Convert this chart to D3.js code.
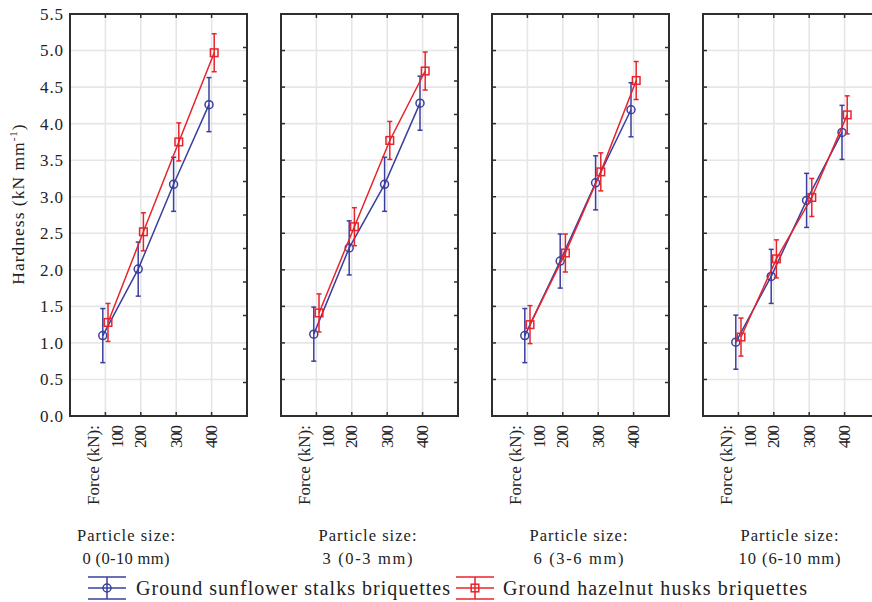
<!DOCTYPE html>
<html>
<head>
<meta charset="utf-8">
<script src="https://cdn.jsdelivr.net/npm/d3@7"></script>
<style>
  html, body { margin: 0; padding: 0; background: #fff; }
  svg { display: block; }
  text { font-family: "Liberation Serif", "DejaVu Serif", serif; fill: #222; }
</style>
</head>
<body>
<svg id="chart" width="872" height="602"></svg>
<script>
// ---- data ----
const forces = [100, 200, 300, 400];
const forceLabelPrefix = "Force (kN):";
const particleSizes = ["0 (0-10 mm)", "3 (0-3 mm)", "6 (3-6 mm)", "10 (6-10 mm)"];
const seriesNames = ["Ground sunflower stalks briquettes", "Ground hazelnut husks briquettes"];

const sunflower = [
  [1.10, 2.01, 3.17, 4.26],
  [1.12, 2.30, 3.17, 4.28],
  [1.10, 2.12, 3.19, 4.19],
  [1.01, 1.91, 2.95, 3.88]
];
const sunflowerErr = [
  [0.37, 0.37, 0.37, 0.37],
  [0.37, 0.37, 0.37, 0.37],
  [0.37, 0.37, 0.37, 0.37],
  [0.37, 0.37, 0.37, 0.37]
];
const hazelnut = [
  [1.28, 2.52, 3.75, 4.97],
  [1.41, 2.59, 3.77, 4.72],
  [1.25, 2.23, 3.34, 4.59],
  [1.08, 2.15, 2.99, 4.12]
];
const hazelnutErr = [
  [0.26, 0.26, 0.26, 0.26],
  [0.26, 0.26, 0.26, 0.26],
  [0.26, 0.26, 0.26, 0.26],
  [0.26, 0.26, 0.26, 0.26]
];
const yTickValues = [0, 0.5, 1, 1.5, 2, 2.5, 3, 3.5, 4, 4.5, 5, 5.5];

// ---- layout ----
const svg = d3.select("#chart");
const yTop = 14, yBottom = 416;
const panelW = 177, panelStep = 211, panelX0 = 70;
const blue = "#3a3f9e", red = "#e8232b", gridC = "#e6e6e6", axisC = "#2e2e2e";

const y = d3.scaleLinear().domain([0, 5.5]).range([yBottom, yTop]);
const yRight = d3.scaleLinear().domain([0, 12]).range([yBottom, yTop]);
const x = d3.scalePoint().domain(forces).range([0, panelW]).padding(1);
const dodge = 2.6;

const series = [
  { name: seriesNames[0], values: sunflower, err: sunflowerErr, color: blue, shape: "circle", dx: -dodge },
  { name: seriesNames[1], values: hazelnut, err: hazelnutErr, color: red, shape: "square", dx: dodge }
];

function drawMarker(g, shape, cx, cy, color) {
  if (shape === "circle") {
    g.append("circle").attr("cx", cx).attr("cy", cy).attr("r", 4)
      .attr("fill", "none").attr("stroke", color).attr("stroke-width", 1.5);
  } else {
    g.append("rect").attr("x", cx - 3.8).attr("y", cy - 3.8).attr("width", 7.6).attr("height", 7.6)
      .attr("fill", "none").attr("stroke", color).attr("stroke-width", 1.5);
  }
}

const bottomLineW = [87, 90, 90, 102];

particleSizes.forEach((ps, pi) => {
  const px = panelX0 + pi * panelStep;
  const g = svg.append("g").attr("transform", `translate(${px},0)`);

  // grid
  g.selectAll("line.hg").data(yTickValues.filter(v => v > 0 && v < 5.5)).join("line")
    .attr("x1", 0).attr("x2", panelW).attr("y1", d => y(d)).attr("y2", d => y(d))
    .attr("stroke", gridC).attr("stroke-width", 1.6);
  g.selectAll("line.vg").data(forces).join("line")
    .attr("x1", d => x(d)).attr("x2", d => x(d)).attr("y1", yTop).attr("y2", yBottom)
    .attr("stroke", gridC).attr("stroke-width", 1.6);

  // inward ticks
  const tl = 4;
  forces.forEach(f => {
    g.append("line").attr("x1", x(f)).attr("x2", x(f)).attr("y1", yTop).attr("y2", yTop + tl).attr("stroke", axisC).attr("stroke-width", 1.5);
    g.append("line").attr("x1", x(f)).attr("x2", x(f)).attr("y1", yBottom).attr("y2", yBottom - tl).attr("stroke", axisC).attr("stroke-width", 1.5);
  });
  d3.range(1, 12).forEach(k => {
    g.append("line").attr("x1", panelW).attr("x2", panelW - tl).attr("y1", yRight(k)).attr("y2", yRight(k)).attr("stroke", axisC).attr("stroke-width", 1.5);
  });
  if (pi > 0) {
    yTickValues.filter(v => v > 0 && v < 5.5).forEach(v => {
      g.append("line").attr("x1", 0).attr("x2", tl).attr("y1", y(v)).attr("y2", y(v)).attr("stroke", axisC).attr("stroke-width", 1.5);
    });
  }

  // frame
  g.append("rect").attr("x", 0).attr("y", yTop).attr("width", panelW).attr("height", yBottom - yTop)
    .attr("fill", "none").attr("stroke", axisC).attr("stroke-width", 2);

  // series
  series.forEach(s => {
    const vals = s.values[pi], errs = s.err[pi];
    const line = d3.line().x((d, i) => x(forces[i]) + s.dx).y(d => y(d));
    g.append("path").attr("d", line(vals)).attr("fill", "none").attr("stroke", s.color).attr("stroke-width", 1.5);
    vals.forEach((v, i) => {
      const cx = x(forces[i]) + s.dx;
      const y1 = y(v + errs[i]), y2 = y(v - errs[i]);
      g.append("line").attr("x1", cx).attr("x2", cx).attr("y1", y1).attr("y2", y2).attr("stroke", s.color).attr("stroke-width", 1.5);
      [y1, y2].forEach(yy => g.append("line").attr("x1", cx - 2.5).attr("x2", cx + 2.5).attr("y1", yy).attr("y2", yy).attr("stroke", s.color).attr("stroke-width", 1.5));
      drawMarker(g, s.shape, cx, y(v), s.color);
    });
  });

  // x tick labels (rotated)
  forces.forEach((f, i) => {
    const lines = i === 0 ? [[forceLabelPrefix, -12, 80], [String(f), 12, 23]] : [[String(f), 0, 23]];
    lines.forEach(([t, off, len]) => {
      g.append("text").attr("transform", `translate(${x(f) + off},${yBottom + 9}) rotate(-90)`)
        .attr("text-anchor", "end").attr("dominant-baseline", "central")
        .attr("font-size", 17).attr("textLength", len).attr("lengthAdjust", "spacing").text(t);
    });
  });

  // particle size labels
  const lx = pi === 0 ? 126 - px : panelW / 2 - 2;
  g.append("text").attr("x", lx).attr("y", 541).attr("text-anchor", "middle").attr("font-size", 16.5)
    .attr("textLength", 98).attr("lengthAdjust", "spacing").text("Particle size:");
  g.append("text").attr("x", lx).attr("y", 564).attr("text-anchor", "middle").attr("font-size", 16.5)
    .attr("textLength", bottomLineW[pi]).attr("lengthAdjust", "spacing").text(ps);
});

// y axis labels (first panel)
const ya = svg.append("g");
yTickValues.forEach(v => {
  ya.append("text").attr("x", 63).attr("y", y(v)).attr("dy", "0.35em")
    .attr("text-anchor", "end").attr("font-size", 17).attr("textLength", 23).attr("lengthAdjust", "spacing")
    .text(d3.format(".1f")(v));
});
const yl = svg.append("text").attr("transform", `translate(24,204) rotate(-90)`)
  .attr("text-anchor", "middle").attr("font-size", 17.5).attr("letter-spacing", 1);
yl.append("tspan").text("Hardness (kN mm");
yl.append("tspan").attr("font-size", 11).attr("dy", -7).text("-1");
yl.append("tspan").attr("dy", 7).text(")");

// legend
const legendItems = [
  { s: series[0], x: 88, tx: 136, w: 314 },
  { s: series[1], x: 456, tx: 503, w: 304 }
];
legendItems.forEach(({ s, x: lx, tx, w }) => {
  const g = svg.append("g");
  const cy = 588;
  [cy - 11, cy, cy + 11].forEach(yy => g.append("line").attr("x1", lx).attr("x2", lx + 38)
    .attr("y1", yy).attr("y2", yy).attr("stroke", s.color).attr("stroke-width", 1.5));
  g.append("line").attr("x1", lx + 19).attr("x2", lx + 19).attr("y1", cy - 11).attr("y2", cy + 11)
    .attr("stroke", s.color).attr("stroke-width", 1.5);
  drawMarker(g, s.shape, lx + 19, cy, s.color);
  g.append("text").attr("x", tx).attr("y", cy).attr("dy", "0.35em").attr("font-size", 20)
    .attr("textLength", w).attr("lengthAdjust", "spacing").text(s.name);
});
</script>
</body>
</html>
